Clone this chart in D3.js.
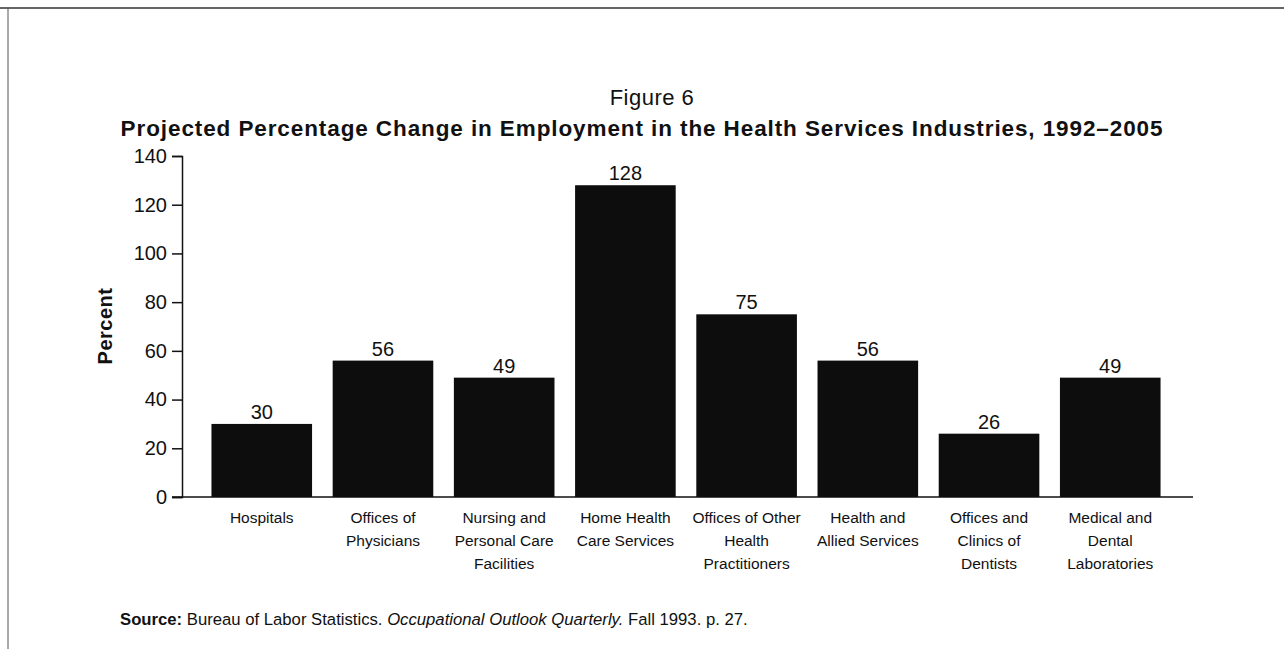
<!DOCTYPE html>
<html>
<head>
<meta charset="utf-8">
<script src="https://cdn.jsdelivr.net/npm/d3@7"></script>
<style>
  body { margin: 0; background: #fff; }
  text { font-family: "Liberation Sans", Arial, Helvetica, sans-serif; fill: #111; }
</style>
</head>
<body>
<div id="chart"></div>
<script>
const categories = [
  ["Hospitals"],
  ["Offices of", "Physicians"],
  ["Nursing and", "Personal Care", "Facilities"],
  ["Home Health", "Care Services"],
  ["Offices of Other", "Health", "Practitioners"],
  ["Health and", "Allied Services"],
  ["Offices and", "Clinics of", "Dentists"],
  ["Medical and", "Dental", "Laboratories"]
];
const values = [30, 56, 49, 128, 75, 56, 26, 49];
const yTicks = [0, 20, 40, 60, 80, 100, 120, 140];

const width = 1284;
const height = 649;

const svg = d3.select("#chart")
  .append("svg")
  .attr("width", width)
  .attr("height", height);

// page frame (top and left rule)
svg.append("line")
  .attr("x1", 0).attr("x2", width)
  .attr("y1", 8).attr("y2", 8)
  .attr("stroke", "#333").attr("stroke-width", 1.5);
svg.append("line")
  .attr("x1", 8).attr("x2", 8)
  .attr("y1", 8).attr("y2", height)
  .attr("stroke", "#555").attr("stroke-width", 1);

// titles
svg.append("text")
  .attr("x", 652).attr("y", 105)
  .attr("text-anchor", "middle")
  .style("font-size", "22px")
  .style("letter-spacing", "0.5px")
  .text("Figure 6");

svg.append("text")
  .attr("x", 642).attr("y", 136)
  .attr("text-anchor", "middle")
  .style("font-size", "22.5px")
  .style("font-weight", "bold")
  .style("letter-spacing", "0.9px")
  .text("Projected Percentage Change in Employment in the Health Services Industries, 1992\u20132005");

// scales
const xScale = d3.scaleBand()
  .domain(d3.range(categories.length))
  .range([182, 1190])
  .paddingInner(0.17)
  .paddingOuter(0.243);

const yScale = d3.scaleLinear()
  .domain([0, 140])
  .range([497, 156]);

// y axis
const yaxis = d3.axisLeft(yScale).tickValues(yTicks).tickSize(10).tickPadding(5);
const gy = svg.append("g")
  .attr("transform", "translate(182,0)")
  .call(yaxis);
gy.select(".domain").attr("stroke", "#111").attr("stroke-width", 1.5);
gy.selectAll(".tick line").attr("stroke", "#111").attr("stroke-width", 1.5);
gy.selectAll(".tick text")
  .style("font-size", "20px")
  .style("font-family", "'Liberation Sans', Arial, sans-serif")
  .attr("fill", "#111");

svg.append("text")
  .attr("transform", "translate(112,326) rotate(-90)")
  .attr("text-anchor", "middle")
  .style("font-size", "20px")
  .style("font-weight", "bold")
  .style("letter-spacing", "0.5px")
  .text("Percent");

// baseline
svg.append("line")
  .attr("x1", 172).attr("x2", 1193)
  .attr("y1", yScale(0)).attr("y2", yScale(0))
  .attr("stroke", "#111").attr("stroke-width", 1.5);

// bars
svg.append("g")
  .selectAll("rect")
  .data(values)
  .join("rect")
  .attr("x", (d, i) => xScale(i))
  .attr("y", (d) => yScale(d))
  .attr("width", xScale.bandwidth())
  .attr("height", (d) => yScale(0) - yScale(d))
  .attr("fill", "#0d0d0d");

// value labels
svg.append("g")
  .selectAll("text")
  .data(values)
  .join("text")
  .attr("x", (d, i) => xScale(i) + xScale.bandwidth() / 2)
  .attr("y", (d) => yScale(d) - 5)
  .attr("text-anchor", "middle")
  .style("font-size", "20px")
  .text((d) => d);

// category labels
const catG = svg.append("g")
  .selectAll("text")
  .data(categories)
  .join("text")
  .attr("text-anchor", "middle")
  .style("font-size", "15.5px");
catG.each(function (lines, i) {
  const t = d3.select(this);
  lines.forEach((line, j) => {
    t.append("tspan")
      .attr("x", xScale(i) + xScale.bandwidth() / 2)
      .attr("y", 523 + j * 23)
      .text(line);
  });
});

// source note
const src = svg.append("text")
  .attr("x", 120).attr("y", 625)
  .style("font-size", "16.7px");
src.append("tspan").style("font-weight", "bold").text("Source:");
src.append("tspan").text(" Bureau of Labor Statistics. ");
src.append("tspan").style("font-style", "italic").text("Occupational Outlook Quarterly.");
src.append("tspan").text(" Fall 1993. p. 27.");
</script>
</body>
</html>
